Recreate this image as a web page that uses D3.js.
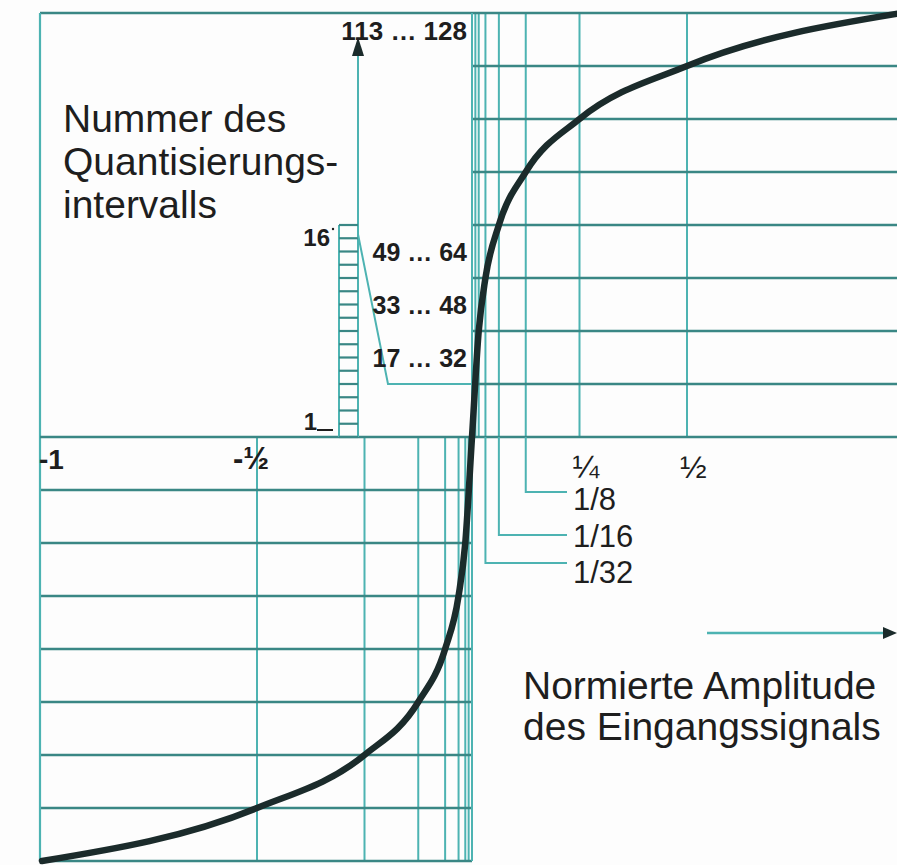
<!DOCTYPE html>
<html><head><meta charset="utf-8">
<script src="https://cdn.jsdelivr.net/npm/d3@7"></script>
<style>
html,body{margin:0;padding:0;background:#fff;}
svg{display:block;}
text{font-family:"Liberation Sans",Arial,sans-serif;fill:#1e1e1e;}
</style></head>
<body>
<svg id="c" width="897" height="865"></svg>
<script>
// ---- data ----
const segX = [0, 1/64, 1/32, 1/16, 1/8, 1/4, 1/2, 1];
const segY = [0, 2/8, 3/8, 4/8, 5/8, 6/8, 7/8, 1];
const gridX = [1/128, 1/64, 1/32, 1/16, 1/8, 1/4, 1/2];
const gridY = [1/8, 2/8, 3/8, 4/8, 5/8, 6/8, 7/8];
const xTickValues = [-1, -0.5, 0.25, 0.5];
const xTickLabels = ["-1", "-½", "¼", "½"];
const zoomValues = [1/8, 1/16, 1/32];
const zoomLabels = ["1/8", "1/16", "1/32"];
const intervalLabels = ["17 … 32", "33 … 48", "49 … 64"];
const topLabel = "113 … 128";
const ladderSteps = 16;
const ladderLabels = ["1", "16"];
const yTitle = ["Nummer des", "Quantisierungs-", "intervalls"];
const xTitle = ["Normierte Amplitude", "des Eingangssignals"];

// ---- layout ----
const svg = d3.select("#c");
const x = d3.scaleLinear().domain([-1, 1]).range([42, 902]);
const y = d3.scaleLinear().domain([-1, 1]).range([861, 13]);
const hCol = "#3a8785", vCol = "#4db3b2", curveCol = "#1b2b2b";
const X0 = x(0), Y0 = y(0), L = 40, T = y(1), B = y(-1), R = 897;

svg.append("rect").attr("width", 897).attr("height", 865).attr("fill", "#fdfdfd");

const g = svg.append("g");
// upper-right grid
g.selectAll(".vu").data(gridX).join("line")
  .attr("x1", d => x(d)).attr("x2", d => x(d)).attr("y1", T).attr("y2", Y0)
  .attr("stroke", vCol).attr("stroke-width", 2);
g.selectAll(".hu").data(gridY).join("line")
  .attr("x1", X0).attr("x2", R).attr("y1", d => y(d)).attr("y2", d => y(d))
  .attr("stroke", hCol).attr("stroke-width", 2.6);
// lower-left grid
g.selectAll(".vl").data(gridX).join("line")
  .attr("x1", d => x(-d)).attr("x2", d => x(-d)).attr("y1", Y0).attr("y2", B)
  .attr("stroke", vCol).attr("stroke-width", 2);
g.selectAll(".hl").data(gridY).join("line")
  .attr("x1", L).attr("x2", X0).attr("y1", d => y(-d)).attr("y2", d => y(-d))
  .attr("stroke", hCol).attr("stroke-width", 2.6);

// frame & axes
g.append("line").attr("x1", L).attr("x2", R).attr("y1", T).attr("y2", T).attr("stroke", hCol).attr("stroke-width", 2.6);
g.append("line").attr("x1", L).attr("x2", X0).attr("y1", B).attr("y2", B).attr("stroke", hCol).attr("stroke-width", 2.6);
g.append("line").attr("x1", L).attr("x2", L).attr("y1", T).attr("y2", B).attr("stroke", vCol).attr("stroke-width", 2.2);
g.append("line").attr("x1", L).attr("x2", R).attr("y1", Y0).attr("y2", Y0).attr("stroke", hCol).attr("stroke-width", 2.6);
g.append("line").attr("x1", X0).attr("x2", X0).attr("y1", T).attr("y2", B).attr("stroke", vCol).attr("stroke-width", 2);

// ladder (first segment expanded: 16 intervals)
const ladderTop = y(0.5), lxL = 339, lxR = 358;
const ly = d3.scaleLinear().domain([0, ladderSteps]).range([Y0, ladderTop]);
g.append("line").attr("x1", lxL).attr("x2", lxL).attr("y1", ladderTop).attr("y2", Y0).attr("stroke", vCol).attr("stroke-width", 2);
g.append("line").attr("x1", lxR).attr("x2", lxR).attr("y1", 52).attr("y2", Y0).attr("stroke", vCol).attr("stroke-width", 2);
g.selectAll(".rung").data(d3.range(ladderSteps + 1)).join("line")
  .attr("x1", lxL).attr("x2", lxR).attr("y1", d => ly(d)).attr("y2", d => ly(d))
  .attr("stroke", hCol).attr("stroke-width", 2.2);
// arrow up
g.append("path").attr("d", `M${lxR},37 L${lxR-6},56 L${lxR+6},56 Z`).attr("fill", "#1b2b2b");
// diagonal connector to first segment top
g.append("path")
  .attr("d", `M${lxR},${ly(15.3)} L388,${y(1/8)} L${X0},${y(1/8)}`)
  .attr("fill", "none").attr("stroke", vCol).attr("stroke-width", 2);

// ladder labels
svg.append("text").attr("x", 317).attr("y", 430).attr("text-anchor", "end")
  .attr("font-size", 24).attr("font-weight", "bold").text(ladderLabels[0]);
g.append("line").attr("x1", 317).attr("x2", 333).attr("y1", 430).attr("y2", 430).attr("stroke", "#1e1e1e").attr("stroke-width", 2);
svg.append("text").attr("x", 330).attr("y", ly(ladderSteps) + 21).attr("text-anchor", "end")
  .attr("font-size", 24).attr("font-weight", "bold").text(ladderLabels[1]);
g.append("circle").attr("cx", 333).attr("cy", ly(ladderSteps) + 4).attr("r", 1.2).attr("fill", "#1e1e1e");

// interval labels
svg.selectAll(".il").data(intervalLabels).join("text")
  .attr("x", 467).attr("y", (d, i) => y((i + 1.5) / 8) + 9)
  .attr("text-anchor", "end").attr("font-size", 25).attr("font-weight", "bold")
  .text(d => d);
svg.append("text").attr("x", 467).attr("y", 40).attr("text-anchor", "end")
  .attr("font-size", 26).attr("font-weight", "bold").text(topLabel);

// zoom annotations for small positive amplitudes
const zLineY = [492, 535, 563], zTextY = [510, 547, 583];
g.selectAll(".za").data(zoomValues).join("path")
  .attr("d", (d, i) => `M${x(d)},${Y0} L${x(d)},${zLineY[i]} L567,${zLineY[i]}`)
  .attr("fill", "none").attr("stroke", vCol).attr("stroke-width", 2);
svg.selectAll(".zl").data(zoomLabels).join("text")
  .attr("x", 573).attr("y", (d, i) => zTextY[i]).attr("font-size", 31).text(d => d);

// curve
const pts = [];
for (let i = segX.length - 1; i > 0; i--) pts.push([-segX[i], -segY[i]]);
for (let i = 0; i < segX.length; i++) pts.push([segX[i], segY[i]]);
const line = d3.line().x(d => x(d[0])).y(d => y(d[1])).curve(d3.curveMonotoneX);
svg.append("path").datum(pts).attr("d", line)
  .attr("fill", "none").attr("stroke", curveCol).attr("stroke-width", 6.5).attr("stroke-linecap", "round");

// x tick labels
svg.selectAll(".xt").data(xTickValues).join("text")
  .attr("x", (d, i) => i === 0 ? x(d) - 3 : (i === 1 ? x(d) - 24 : x(d) - 7))
  .attr("y", (d, i) => i < 2 ? 469 : 478)
  .attr("font-size", (d, i) => i === 0 ? 28 : (i === 1 ? 31 : 32))
  .attr("font-weight", (d, i) => i < 2 ? "bold" : "normal")
  .text((d, i) => xTickLabels[i]);

// titles
svg.selectAll(".yt").data(yTitle).join("text")
  .attr("x", 63).attr("y", (d, i) => 132 + i * 43).attr("font-size", 39).text(d => d);
svg.selectAll(".xtt").data(xTitle).join("text")
  .attr("x", 523).attr("y", (d, i) => 699 + i * 41).attr("font-size", 39).text(d => d);

// amplitude arrow
g.append("line").attr("x1", 707).attr("x2", 886).attr("y1", 633).attr("y2", 633).attr("stroke", vCol).attr("stroke-width", 2.6);
g.append("path").attr("d", "M897,633 L883,627 L883,639 Z").attr("fill", "#1b2b2b");
</script>
</body></html>
